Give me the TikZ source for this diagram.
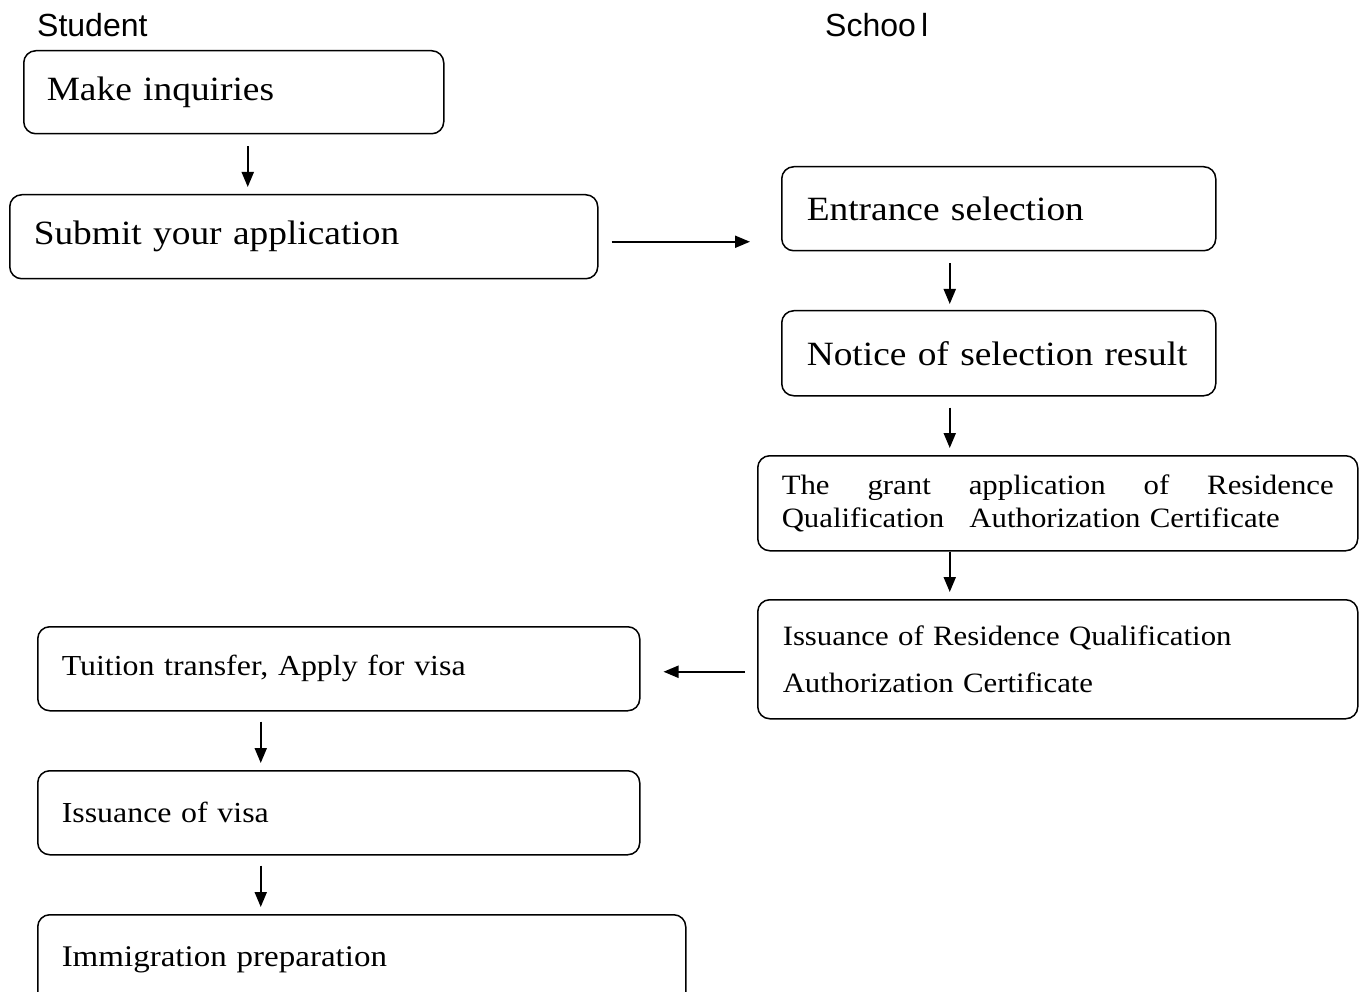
\documentclass[tikz,border=0pt]{standalone}
\usepackage{fontspec}
\setmainfont{Liberation Serif}[FakeStretch=1.1]
\newfontfamily\labfont{Liberation Sans}
\usetikzlibrary{arrows.meta}
\tikzset{
  box/.style={draw, line width=1.5pt, rounded corners=12pt, anchor=north west, align=left, inner ysep=0pt},
  big/.style={font=\fontsize{34}{40}\selectfont},
  small/.style={font=\fontsize{29}{33}\selectfont},
  arr/.style={line width=2pt, -{Triangle[length=15pt,width=12pt]}},
  lab/.style={anchor=base west, inner sep=0pt, font=\labfont\fontsize{32}{36}\selectfont}
}
\begin{document}
\begin{tikzpicture}[x=1pt,y=1pt]
\useasboundingbox (0,0) rectangle (1360,-992);
\clip (0,0) rectangle (1360,-992);
\node[lab] (stu) at (37,-37) {Student};
\node[lab] (sch) at (825,-37) {Schoo\,l};

\node[box,big,minimum width=420pt,minimum height=83pt,inner xsep=23pt,text width=374pt] (mi) at (23,-50) {Make inquiries};
\node[box,big,minimum width=588pt,minimum height=84pt,inner xsep=24pt,text width=540pt] (sa) at (9,-194) {Submit your application};
\node[box,big,minimum width=434pt,minimum height=84pt,inner xsep=25pt,text width=384pt] (es) at (781,-166) {Entrance selection};
\node[box,big,minimum width=434pt,minimum height=85pt,inner xsep=25pt,text width=384pt] (ns) at (781,-310) {Notice of selection result};
\node[box,font=\fontsize{28}{33}\selectfont,minimum width=600pt,minimum height=95pt,inner xsep=24pt,text width=552pt] (ga) at (757,-455)
  {\makebox[552pt][l]{The\hfill grant\hfill application\hfill of\hfill Residence}\\Qualification\hspace{0.9em}Authorization Certificate};
\node[box,font=\fontsize{28}{47}\selectfont,minimum width=600pt,minimum height=119pt,inner xsep=25pt,text width=550pt] (ir) at (757,-599)
  {Issuance of Residence Qualification\\Authorization Certificate};
\node[box,small,minimum width=602pt,minimum height=84pt,inner xsep=24pt,text width=554pt] (tt) at (37,-626) {Tuition transfer, Apply for visa};
\node[box,small,minimum width=602pt,minimum height=84pt,inner xsep=24pt,text width=554pt] (iv) at (37,-770) {Issuance of visa};
\node[box,font=\fontsize{30}{34}\selectfont,minimum width=648pt,minimum height=90pt,inner xsep=24pt,text width=600pt] (ip) at (37,-914) {Immigration preparation};

\draw[arr,shorten <=12pt,shorten >=7pt] ([xshift=14pt]mi.south) -- ([xshift=14pt]mi.south |- sa.north);
\draw[arr,shorten <=13pt,shorten >=31pt] ([yshift=-5pt]sa.east) -- ([yshift=-5pt]sa.east -| es.west);
\draw[arr,shorten <=12pt,shorten >=6pt] ([xshift=-49pt]es.south) -- ([xshift=-49pt]es.south |- ns.north);
\draw[arr,shorten <=11pt,shorten >=7pt] ([xshift=-49pt]ns.south) -- ([xshift=-49pt]ns.south |- ga.north);
\draw[arr,shorten <=0pt,shorten >=7pt] ([xshift=-49pt]ns.south |- ga.south) -- ([xshift=-49pt]ns.south |- ir.north);
\draw[arr,shorten <=12pt,shorten >=23pt] ([yshift=-12.5pt]ir.west) -- ([yshift=-12.5pt]ir.west -| tt.east);
\draw[arr,shorten <=10pt,shorten >=7pt] ([xshift=-78pt]tt.south) -- ([xshift=-78pt]tt.south |- iv.north);
\draw[arr,shorten <=10pt,shorten >=7pt] ([xshift=-78pt]iv.south) -- ([xshift=-78pt]iv.south |- ip.north);
\end{tikzpicture}
\end{document}
